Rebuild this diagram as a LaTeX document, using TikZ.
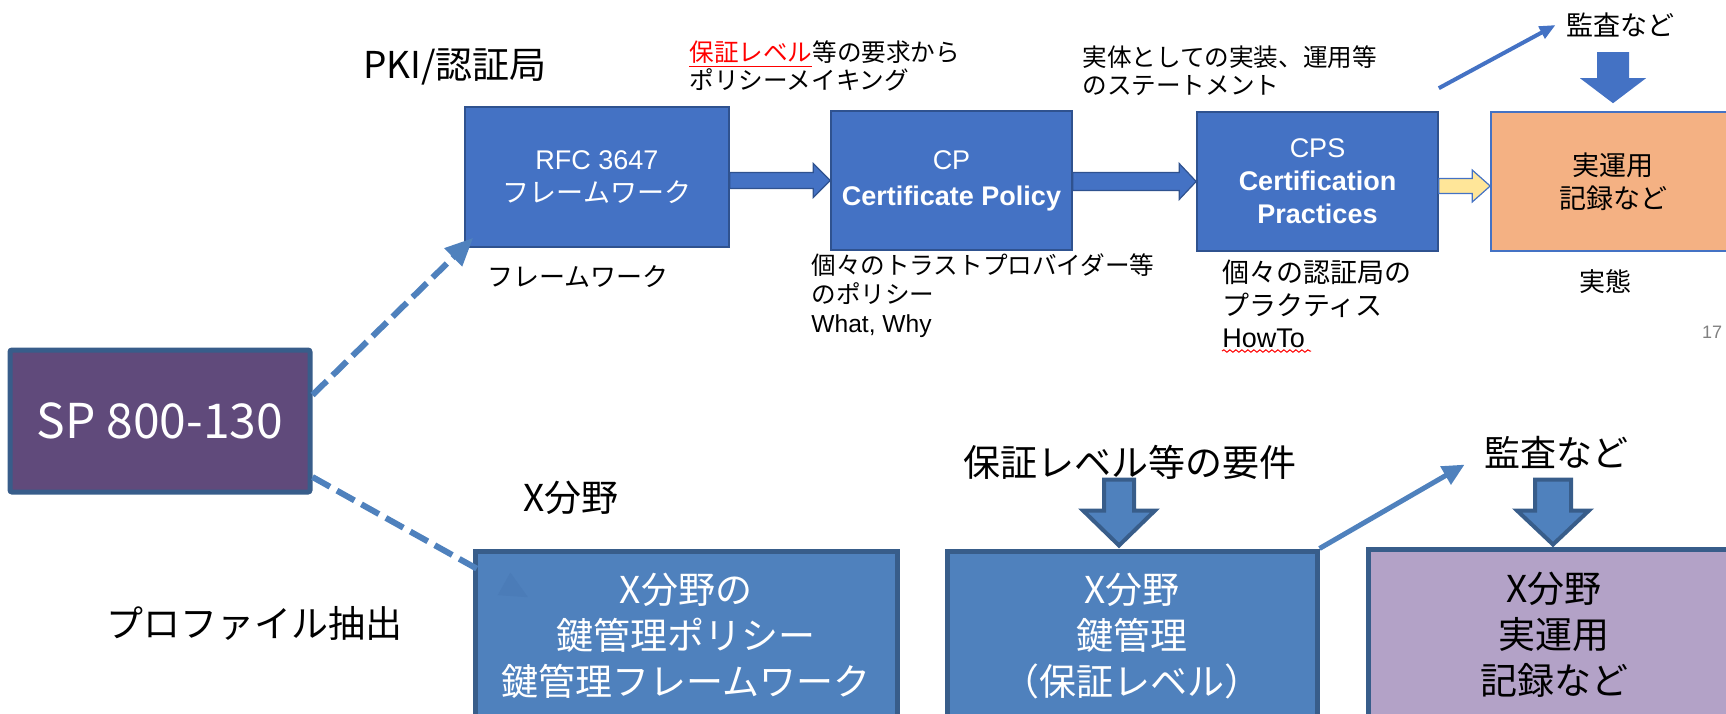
\documentclass[tikz,border=0pt]{standalone}
\usepackage{fontspec}
\setmainfont{Noto Sans CJK JP}
\newfontfamily\arial{Liberation Sans}
\usetikzlibrary{calc,arrows.meta,decorations.pathmorphing}
\definecolor{topblue}{HTML}{4472C4}
\definecolor{topedge}{HTML}{2F528F}
\definecolor{botblue}{HTML}{4F81BD}
\definecolor{botedge}{HTML}{385D8A}
\definecolor{spfill}{HTML}{604A7B}
\definecolor{orangefill}{HTML}{F4B183}
\definecolor{yellowfill}{HTML}{FFE699}
\definecolor{purplefill}{HTML}{B3A2C7}
\definecolor{fainttip}{HTML}{4B7CB8}
\newcommand{\fs}[2]{\fontsize{#1}{#2}\selectfont}
\begin{document}
\begin{tikzpicture}[x=0.5pt,y=-0.5pt,
  topbox/.style={draw=topedge, line width=0.8pt, fill=topblue, text=white, align=center, inner sep=0pt},
  botbox/.style={draw=botedge, line width=2.5pt, fill=botblue, text=white, align=center, inner sep=0pt},
  lbl/.style={inner sep=0pt, align=left, anchor=west},
  clbl/.style={inner sep=0pt, align=center},
  dasharrow/.style={draw=botblue, line width=3pt, dash pattern=on 10pt off 4pt, -{Triangle[length=14pt,width=12pt]}},
  blockarrow/.style={fill=topblue, draw=topedge, line width=0.6pt},
  downarrow/.style={fill=botblue, draw=botedge, line width=2pt, line join=miter}
]
\useasboundingbox (0,0) rectangle (1726,713);
\clip (0,0) rectangle (1726,713);

% top row boxes
\node[topbox, minimum width=132pt, minimum height=70pt, font=\fs{13.5}{16.5}] (rfc) at (597,177) {{\arial RFC 3647}\\フレームワーク};
\node[topbox, minimum width=120.5pt, minimum height=69.5pt, font=\arial\fs{13.5}{18}] (cp) at (951.5,180.5) {CP\\{\bfseries Certificate Policy}};
\node[topbox, minimum width=120.5pt, minimum height=69.5pt, font=\arial\fs{13.5}{16.5}] (cps) at (1317.5,181.5) {CPS\\{\bfseries Certification}\\{\bfseries Practices}};
\node[draw=topblue, line width=0.8pt, fill=orangefill, align=center, inner sep=0pt, minimum width=122pt, minimum height=69.5pt, font=\fs{13.5}{16.5}] (jitsu) at (1613,181.5) {実運用\\記録など};

% left box
\node[draw=botedge, line width=2.5pt, fill=spfill, text=white, rounded corners=1pt, inner sep=0pt, minimum width=150pt, minimum height=71pt, font=\fs{24}{28}] (sp) at (160,421) {SP 800-130};

% bottom boxes
\node[botbox, minimum width=211pt, minimum height=85pt, font=\fs{18.5}{23}] (xpol) at (686,636) {X分野の\\鍵管理ポリシー\\鍵管理フレームワーク};
\node[botbox, minimum width=185pt, minimum height=85pt, font=\fs{18.5}{23}] (xkey) at (1132,636) {X分野\\鍵管理\\（保証レベル）};
\node[draw=botedge, line width=2.5pt, fill=purplefill, align=center, inner sep=0pt, minimum width=186pt, minimum height=86pt, font=\fs{18.5}{23}] (xrec) at (1554,635) {X分野\\実運用\\記録など};

% labels
\node[clbl, font=\fs{18.5}{22}] (pki) at (455,67) {PKI/認証局};
\node[lbl, font=\fs{12.3}{14}] (req1) at (689,66) {{\color{red}\underline{保証レベル}}等の要求から\\ポリシーメイキング};
\node[lbl, font=\fs{12.3}{14}] (stmt) at (1082,71) {実体としての実装、運用等\\のステートメント};
\node[clbl, font=\fs{13}{16}] (fwlbl) at (578,277) {フレームワーク};
\node[lbl, font=\fs{12.3}{14.5}] (cpnote) at (811,296) {個々のトラストプロバイダー等\\のポリシー\\{\arial What, Why}};
\node[lbl, font=\fs{13.5}{16.3}] (cpsnote) at (1222,304) {個々の認証局の\\プラクティス\\{\arial HowTo}};
\draw[red, line width=0.5pt, decorate, decoration={snake, amplitude=0.6pt, segment length=3pt}] (1222,351) -- (1311,351);
\node[clbl, font=\fs{13}{16}] (jittai) at (1605,282) {実態};
\node[clbl, font=\arial\fs{9}{11}, text=gray] (pg) at (1712,332) {17};
\node[clbl, font=\fs{18.5}{22}] (xfield) at (571,498) {X分野};
\node[clbl, font=\fs{18.5}{22}] (profile) at (254,623) {プロファイル抽出};
\node[clbl, font=\fs{18.5}{22}] (reqlbl) at (1130,462) {保証レベル等の要件};
\node[clbl, font=\fs{18}{22}] (audit2) at (1556,452) {監査など};
\node[clbl, font=\fs{13.5}{16}] (audit1) at (1620,25) {監査など};

% block arrows top
\filldraw[blockarrow] ($(rfc.east|-cp.west)+(0,-8)$) -- ($(cp.west)+(-17,-8)$) -- ($(cp.west)+(-17,-17)$) -- (cp.west) -- ($(cp.west)+(-17,17)$) -- ($(cp.west)+(-17,8)$) -- ($(rfc.east|-cp.west)+(0,8)$) -- cycle;
\filldraw[blockarrow] ($(cp.east|-cps.west)+(0,-9)$) -- ($(cps.west)+(-17,-9)$) -- ($(cps.west)+(-17,-18)$) -- (cps.west) -- ($(cps.west)+(-17,18)$) -- ($(cps.west)+(-17,9)$) -- ($(cp.east|-cps.west)+(0,9)$) -- cycle;
\filldraw[fill=yellowfill, draw=topblue, line width=0.6pt] ($(cps.east)+(0,-3)$) -- ($(jitsu.west)+(-18,-3)$) -- ($(jitsu.west)+(-18,-11.5)$) -- ($(jitsu.west)+(0,4.5)$) -- ($(jitsu.west)+(-18,20.5)$) -- ($(jitsu.west)+(-18,12)$) -- ($(cps.east)+(0,12)$) -- cycle;
\fill[topblue] ($(jitsu.north)+(-16,-59)$) -- ($(jitsu.north)+(16,-59)$) -- ($(jitsu.north)+(16,-33)$) -- ($(jitsu.north)+(33,-33)$) -- ($(jitsu.north)+(0,-8)$) -- ($(jitsu.north)+(-33,-33)$) -- ($(jitsu.north)+(-16,-33)$) -- cycle;

% bottom down arrows
\filldraw[downarrow] ($(xkey.north)+(-28,-69)$) -- ($(xkey.north)+(2,-69)$) -- ($(xkey.north)+(2,-38)$) -- ($(xkey.north)+(23,-38)$) -- ($(xkey.north)+(-13,-3)$) -- ($(xkey.north)+(-49,-38)$) -- ($(xkey.north)+(-28,-38)$) -- cycle;
\filldraw[downarrow] ($(xrec.north)+(-19,-67)$) -- ($(xrec.north)+(17,-67)$) -- ($(xrec.north)+(17,-36)$) -- ($(xrec.north)+(35,-36)$) -- ($(xrec.north)+(-1,-2)$) -- ($(xrec.north)+(-37,-36)$) -- ($(xrec.north)+(-19,-36)$) -- cycle;

% thin arrows
\coordinate (a1) at ($(cps.north east)+(0,-23)$);
\draw[topblue, line width=2pt, -{Triangle[length=8pt,width=6.5pt]}] (a1) -- ($(audit1.west)+(-10,0)$);
\draw[botblue, line width=2.5pt, -{Triangle[length=11pt,width=10pt]}] (xkey.north east) -- ($(audit2.south west)+(-19,-4)$);

% dashed arrows
\draw[dasharrow] ($(sp.east)+(0,-26)$) -- ($(rfc.south west)+(9,-10)$);
\draw[dasharrow, -{Triangle[length=14pt,width=12pt,fill=fainttip,color=fainttip]}] ($(sp.east)+(0,56)$) -- ($(xpol.north west)+(56,49)$);
\end{tikzpicture}
\end{document}
